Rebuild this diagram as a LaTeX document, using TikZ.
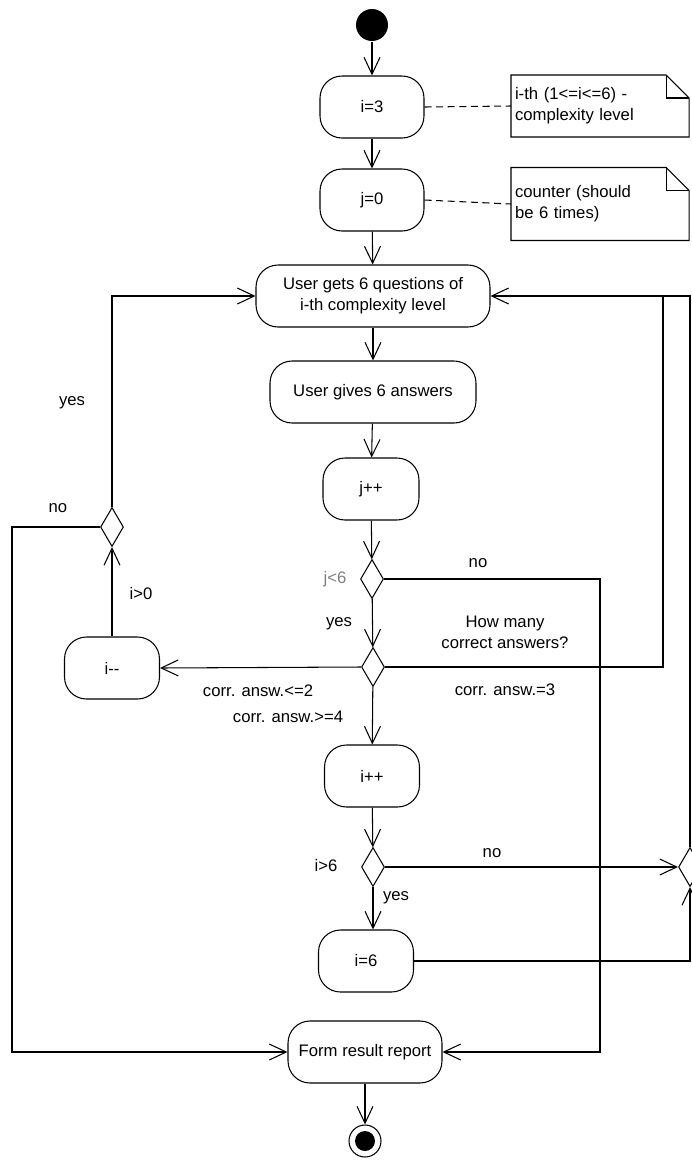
\documentclass[tikz,border=0pt]{standalone}
\usepackage{fontspec}
\setmainfont{Liberation Sans}
\usetikzlibrary{shapes.geometric,arrows.meta}
\begin{document}
\begin{tikzpicture}[x=0.02cm,y=-0.02cm,line width=0.6pt,
    >={Straight Barb[length=3.4mm,width=3.2mm]},font=\fontsize{9.5}{12}\selectfont]
  \tikzstyle{act}=[rectangle,draw,rounded corners=0.44cm,minimum height=1.24cm,align=center,inner sep=2pt]
  \tikzstyle{decision}=[diamond,draw,minimum width=0.46cm,minimum height=0.78cm,inner sep=0pt]
  \tikzstyle{note}=[rectangle,minimum width=3.52cm,text width=3.4cm,align=left,inner sep=2pt]
  \tikzstyle{anchorline}=[dash pattern=on 4pt off 2.6pt]
  \useasboundingbox (0,0) rectangle (691,1160);
  % main column
  \node[circle,fill,minimum size=0.64cm,inner sep=0pt] (start) at (372,25) {};
  \node[act,minimum width=2.08cm] (iset) at (372,107) {i=3};
  \node[act,minimum width=2.08cm] (jset) at (372,200) {j=0};
  \node[act,minimum width=4.68cm] (ask) at (373,296) {User gets 6 questions of\\i-th complexity level};
  \node[act,minimum width=4.12cm] (answer) at (373,392) {User gives 6 answers};
  \node[act,minimum width=1.92cm] (jinc) at (371,489) {j++};
  \node[decision] (jcheck) at (372,579) {};
  \node[decision] (howmany) at (373,667) {};
  \node[act,minimum width=1.9cm] (iinc) at (372,776) {i++};
  \node[decision] (icheck) at (373,867) {};
  \node[act,minimum width=1.9cm] (ifix) at (366,961) {i=6};
  \node[act,minimum width=3.08cm] (report) at (365,1052) {Form result report};
  \node[circle,draw,minimum size=0.64cm,inner sep=0pt] (stop) at (365,1141) {};
  \node[circle,fill,minimum size=0.4cm,inner sep=0pt] (stopdot) at (stop) {};
  % left branch
  \node[act,minimum width=1.9cm] (idec) at (112,668) {i-{}-};
  \node[decision] (icheckl) at (112,527) {};
  % merge on the right
  \node[decision] (merge) at (690,867) {};
  % notes
  \node[note,minimum height=1.22cm] (n1) at (600,106) {i-th (1<=i<=6) -\\complexity level};
  \node[note,minimum height=1.44cm] (n2) at (600,204) {counter (should\\be 6 times)\\[3pt]};
  \foreach \n in {n1,n2}{
    \draw (\n.south west) -- (\n.north west) -- ([xshift=-0.46cm]\n.north east)
      -- ([yshift=-0.46cm]\n.north east) -- (\n.south east) -- cycle;
    \draw ([xshift=-0.46cm]\n.north east) |- ([yshift=-0.46cm]\n.north east);
  }
  \draw[anchorline] (iset.east) -- (n1.west);
  \draw[anchorline] (jset.east) -- (n2.west);
  % flow
  \draw[->] (start) -- (iset);
  \draw[->] (iset) -- (jset);
  \draw[->] (jset) -- (ask);
  \draw[->] (ask) -- (answer);
  \draw[->] (answer) -- (jinc);
  \draw[->] (jinc) -- (jcheck);
  \draw[->] (jcheck) -- (howmany);
  \draw[->] (howmany) -- (iinc);
  \draw[->] (iinc) -- (icheck);
  \draw[->] (icheck.south) -- (icheck.south |- ifix.north);
  \draw[->] (report) -- (stop);
  \coordinate (rj) at (600,579);
  \draw[->] (jcheck.east) -- (rj) |- (report.east);
  \draw[->] (howmany.west) -- (idec.east);
  \coordinate (rh) at (663,296);
  \draw (howmany.east) -| (rh);
  \draw[->] (merge.north) |- (ask.east);
  \draw[->] (icheck.east) -- (merge.west);
  \draw[->] (ifix.east) -| (merge.south);
  \draw[->] (idec.north) -- (icheckl.south);
  \draw[->] (icheckl.north) |- (ask.west);
  \coordinate (lf) at (12,527);
  \draw[->] (icheckl.west) -- (lf) |- (report.west);
  % labels
  \node (lyes1) at (72,403) {yes};
  \node (lno1) at (58,508) {no};
  \node (lgt0) at (141,594) {i>0};
  \node[text=gray] (llt6) at (335,579) {j<6};
  \node (lno2) at (478,563) {no};
  \node (lyes2) at (339,624) {yes};
  \node[align=center] (lhow) at (505,632) {How many\\correct answers?};
  \node (lle2) at (258,691) {corr. answ.<=2};
  \node (lge4) at (288,717) {corr. answ.>=4};
  \node (leq3) at (505,690) {corr. answ.=3};
  \node (lgt6) at (326,866) {i>6};
  \node (lno3) at (492,853) {no};
  \node (lyes3) at (396,898) {yes};
\end{tikzpicture}
\end{document}
